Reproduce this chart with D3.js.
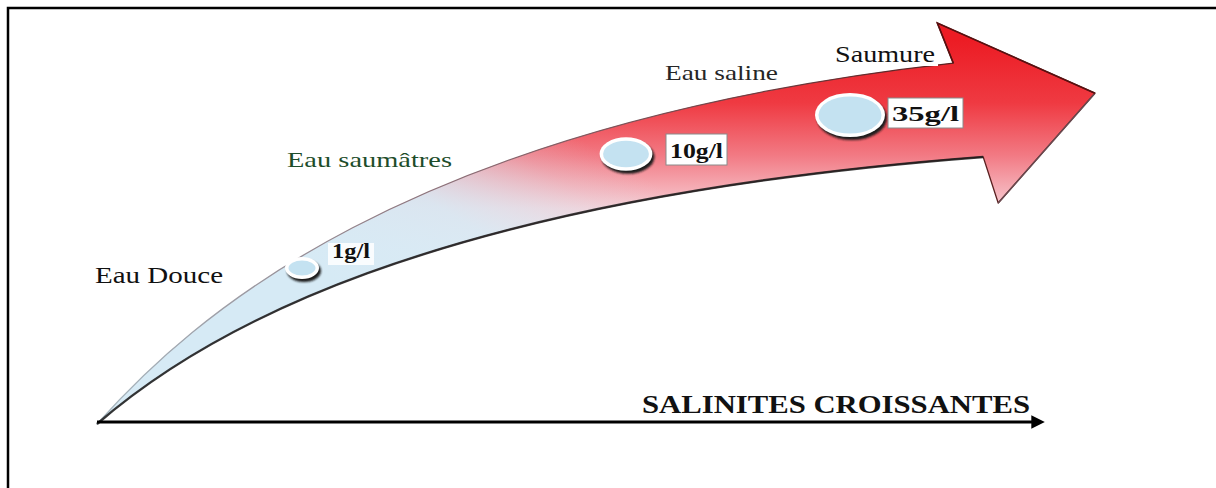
<!DOCTYPE html>
<html>
<head>
<meta charset="utf-8">
<script src="https://cdn.jsdelivr.net/npm/d3@7"></script>
<style>
  html, body { margin: 0; padding: 0; background: #fff; }
  svg { display: block; }
</style>
</head>
<body>
<svg id="chart" width="1216" height="488"></svg>
<script>
"use strict";

// data
const zones = ["Eau Douce", "Eau saumâtres", "Eau saline", "Saumure"];
const zoneColors = ["#111111", "#1e4d2b", "#262626", "#111111"];
const salinities = [1, 10, 35];
const unit = "g/l";
const axisTitle = "SALINITES CROISSANTES";

// arrow outline (bezier control points), in a 0..100 diagram space
const upperEdge = [[0, 0], [9.3, 25.9], [30.4, 74.6], [85.8, 90]];
const headPts = [[84.2, 100], [100, 82.5], [90.3, 55.1], [88.8, 66.6]];
const lowerEdge = [[88.8, 66.6], [32.4, 55.9], [10.3, 22.2], [0, 0]];

const W = 1216, H = 488;
const FONT = "'Liberation Serif', 'Times New Roman', serif";
const svg = d3.select("#chart");

const x = d3.scaleLinear().domain([0, 100]).range([97, 1095]);
const y = d3.scaleLinear().domain([0, 100]).range([424, 23]);
const px = function (p) { return [x(p[0]), y(p[1])]; };

const defs = svg.append("defs");

var vgrad = defs.append("linearGradient")
    .attr("id", "vgrad").attr("gradientUnits", "userSpaceOnUse")
    .attr("x1", 0).attr("y1", 40).attr("x2", 0).attr("y2", 250);
[[0, "#ec1c24"], [0.3, "#ef3a42"], [0.55, "#f27a84"], [0.8, "#f7ccd3"], [1, "#f9e8ec"]]
    .forEach(function (s) { vgrad.append("stop").attr("offset", s[0]).attr("stop-color", s[1]); });

var hgrad = defs.append("linearGradient")
    .attr("id", "hgrad").attr("gradientUnits", "userSpaceOnUse")
    .attr("x1", 350).attr("y1", 290).attr("x2", 500).attr("y2", 40);
[[0, 1], [0.4, 0.85], [0.7, 0.2], [0.85, 0]]
    .forEach(function (s) { hgrad.append("stop").attr("offset", s[0]).attr("stop-color", "#d6eaf5").attr("stop-opacity", s[1]); });

var sgrad = defs.append("linearGradient")
    .attr("id", "sgrad").attr("gradientUnits", "userSpaceOnUse")
    .attr("x1", 97).attr("y1", 0).attr("x2", 950).attr("y2", 0);
[[0, "#a8b8c0"], [0.45, "#8a6a72"], [1, "#5a2020"]]
    .forEach(function (s) { sgrad.append("stop").attr("offset", s[0]).attr("stop-color", s[1]); });

defs.append("filter").attr("id", "blur")
    .append("feGaussianBlur").attr("stdDeviation", 1.2);

defs.append("marker")
    .attr("id", "axisHead").attr("viewBox", "0 0 10 10")
    .attr("refX", 2).attr("refY", 5)
    .attr("markerWidth", 6).attr("markerHeight", 4.5)
    .attr("orient", "auto")
    .append("path").attr("d", "M0,0 L10,5 L0,10 Z").attr("fill", "#000");

// frame (image is cropped on the right and bottom)
svg.append("path")
    .attr("d", "M8," + H + " L8,8 L" + W + ",8")
    .attr("fill", "none").attr("stroke", "#000").attr("stroke-width", 2.5);

// curved arrow
function bez(path, pts, move) {
    var a = pts.map(px);
    if (move) path.moveTo(a[0][0], a[0][1]); else path.lineTo(a[0][0], a[0][1]);
    path.bezierCurveTo(a[1][0], a[1][1], a[2][0], a[2][1], a[3][0], a[3][1]);
    return path;
}

var outline = d3.path();
bez(outline, upperEdge, true);
headPts.map(px).forEach(function (p) { outline.lineTo(p[0], p[1]); });
bez(outline, lowerEdge, false);
outline.closePath();
var arrowD = outline.toString();

svg.append("path").attr("d", arrowD).attr("fill", "url(#vgrad)");
svg.append("path").attr("d", arrowD).attr("fill", "url(#hgrad)")
    .attr("stroke", "url(#sgrad)").attr("stroke-width", 1.3).attr("stroke-linejoin", "round");

svg.append("path").attr("d", bez(d3.path(), lowerEdge, true).toString())
    .attr("fill", "none").attr("stroke", "#1c1c1c").attr("stroke-width", 2.4).attr("opacity", 0.85);

var straight = d3.line()
    .x(function (d) { return x(d[0]); })
    .y(function (d) { return y(d[1]); });
svg.append("path").attr("d", straight(headPts.slice(1, 3)))
    .attr("fill", "none").attr("stroke", "#6a4a50").attr("stroke-width", 1.5);
svg.append("path").attr("d", straight([upperEdge[upperEdge.length - 1], headPts[0], headPts[1]]))
    .attr("fill", "none").attr("stroke", "#5a1010").attr("stroke-width", 1.6);

// axis
svg.append("line")
    .attr("x1", x(0)).attr("y1", 422).attr("x2", 1034).attr("y2", 422)
    .attr("stroke", "#000").attr("stroke-width", 3)
    .attr("marker-end", "url(#axisHead)");

svg.append("text")
    .attr("x", 642).attr("y", 413)
    .attr("font-family", FONT).attr("font-weight", "bold")
    .attr("font-size", 25).attr("fill", "#111")
    .attr("textLength", 388).attr("lengthAdjust", "spacingAndGlyphs")
    .text(axisTitle);

// zone labels
var zonePos = d3.scaleOrdinal().domain(zones)
    .range([[95, 283, 128, 24], [287, 167, 165, 22], [665, 80, 113, 22], [835, 62, 100, 24]]);

svg.append("rect").attr("x", 826).attr("y", 36).attr("width", 112).attr("height", 30).attr("fill", "#fff");

svg.selectAll("text.zone")
    .data(zones)
    .enter().append("text")
    .attr("class", "zone")
    .attr("x", function (d) { return zonePos(d)[0]; })
    .attr("y", function (d) { return zonePos(d)[1]; })
    .attr("font-size", function (d) { return zonePos(d)[3]; })
    .attr("textLength", function (d) { return zonePos(d)[2]; })
    .attr("lengthAdjust", "spacingAndGlyphs")
    .attr("font-family", FONT)
    .attr("fill", function (d, i) { return zoneColors[i]; })
    .text(function (d) { return d; });

// salinity bubbles
var bubblePos = d3.scaleOrdinal().domain(salinities).range([[302, 268], [626, 154], [850, 115]]);
var rx = d3.scalePow().exponent(0.3).domain([1, 35]).range([16, 34]);

var bubbles = svg.selectAll("g.bubble")
    .data(salinities)
    .enter().append("g")
    .attr("class", "bubble")
    .attr("transform", function (d) { return "translate(" + bubblePos(d)[0] + "," + bubblePos(d)[1] + ")"; });

bubbles.append("ellipse")
    .attr("cx", 2).attr("cy", 3)
    .attr("rx", function (d) { return rx(d) + 1; })
    .attr("ry", function (d) { return rx(d) * 0.62 + 1; })
    .attr("fill", "#1a1a1a").attr("filter", "url(#blur)");

bubbles.append("ellipse")
    .attr("rx", function (d) { return rx(d) + 1; })
    .attr("ry", function (d) { return rx(d) * 0.62 + 1; })
    .attr("fill", "#fff");

bubbles.append("ellipse")
    .attr("rx", function (d) { return rx(d) - 2.5; })
    .attr("ry", function (d) { return rx(d) * 0.62 - 2.5; })
    .attr("fill", "#c4e2f1");

// value labels
var labelPos = d3.scaleOrdinal().domain(salinities)
    .range([[328, 243, 46, 22, 20], [666, 134, 61, 31, 22], [888, 98, 75, 30, 22]]);

salinities.forEach(function (d, i) {
    var p = labelPos(d);
    svg.append("rect")
        .attr("x", p[0]).attr("y", p[1]).attr("width", p[2]).attr("height", p[3])
        .attr("fill", "#fff").attr("fill-opacity", i === 0 ? 0.85 : 1)
        .attr("stroke", i === 0 ? "none" : "#8a8a8a").attr("stroke-width", 1);
    svg.append("text")
        .attr("x", p[0] + 4).attr("y", p[1] + p[3] - 7)
        .attr("font-family", FONT).attr("font-weight", "bold")
        .attr("font-size", p[4]).attr("fill", "#111")
        .attr("textLength", p[2] - 8).attr("lengthAdjust", "spacingAndGlyphs")
        .text(d + unit);
});
</script>
</body>
</html>
